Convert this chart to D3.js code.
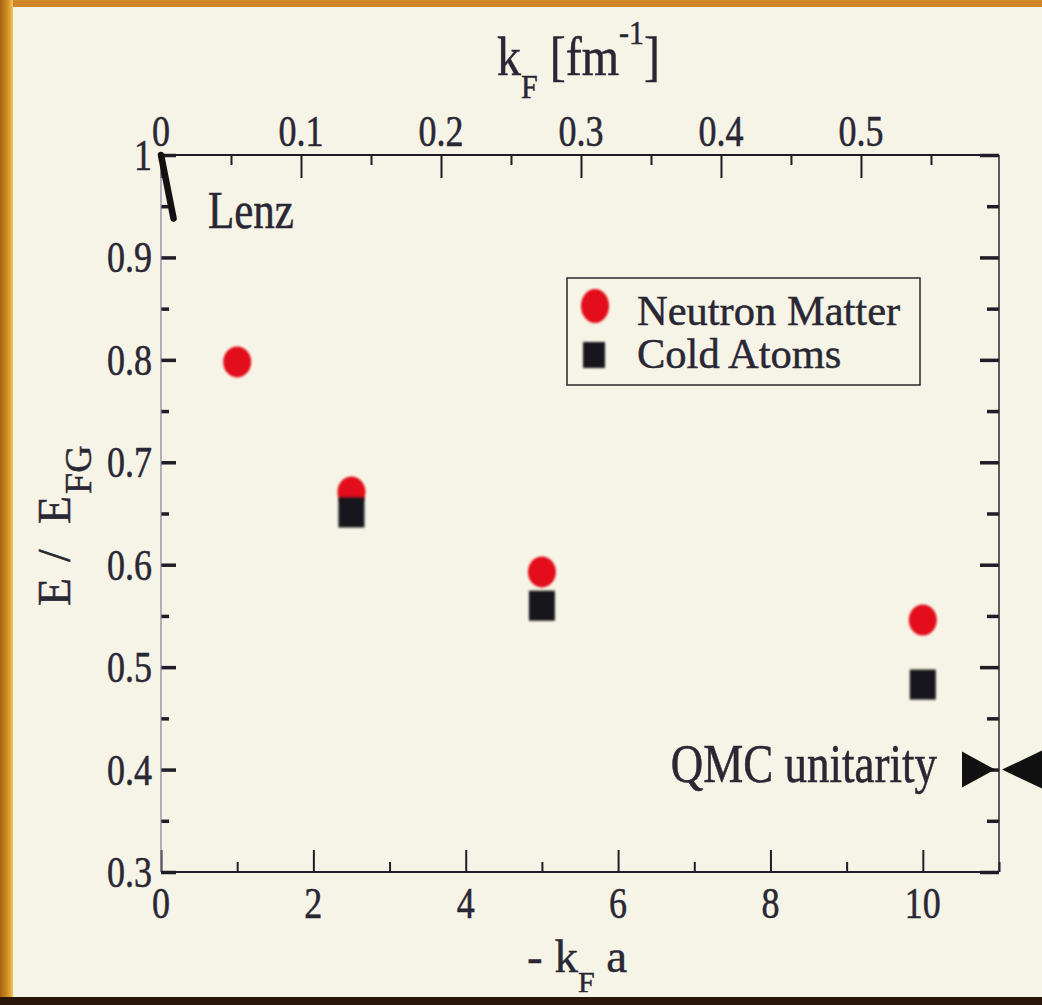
<!DOCTYPE html>
<html><head><meta charset="utf-8">
<script src="https://cdn.jsdelivr.net/npm/d3@7"></script>
<style>
html,body{margin:0;padding:0;background:#f6f4e6;}
svg{display:block;}
text{font-family:"Liberation Serif","Times New Roman",serif;fill:#2a2734;stroke:#2a2734;stroke-width:0.45px;}
</style></head><body>
<svg id="chart" width="1042" height="1005"></svg>
<script>
// ---- data ----
const neutronX = [1, 2.5, 5, 10];
const neutronE = [0.798, 0.671, 0.593, 0.546];
const coldX = [2.5, 5, 10];
const coldE = [0.651, 0.560, 0.483];
const lenzX = [0, 0.165];
const lenzE = [1.0, 0.938];
const qmcE = 0.40;
const bottomTicks = [0, 2, 4, 6, 8, 10];
const bottomMinor = [1, 3, 5, 7, 9, 11];
const topTicks = [0, 0.1, 0.2, 0.3, 0.4, 0.5];
const topLabels = ["0", "0.1", "0.2", "0.3", "0.4", "0.5"];
const topMinor = [0.05, 0.15, 0.25, 0.35, 0.45, 0.55];
const leftTicks = [0.3, 0.4, 0.5, 0.6, 0.7, 0.8, 0.9, 1.0];
const leftLabels = ["0.3", "0.4", "0.5", "0.6", "0.7", "0.8", "0.9", "1"];
const leftMinor = [0.35, 0.45, 0.55, 0.65, 0.75, 0.85, 0.95];
const legendLabels = ["Neutron Matter", "Cold Atoms"];

// ---- layout ----
const W = 1042, H = 1005;
const L = 161, R = 999, T = 155, B = 872;
const x = d3.scaleLinear().domain([0, 11]).range([L, R]);
const xTop = d3.scaleLinear().domain([0, 0.5986]).range([L, R]);
const y = d3.scaleLinear().domain([0.3, 1]).range([B, T]);

const svg = d3.select("#chart");

// frame / background
svg.append("rect").attr("x", 0).attr("y", 0).attr("width", W).attr("height", H).attr("fill", "#f6f4e6");
const defs = svg.append("defs");
const lg = defs.append("linearGradient").attr("id", "leftg").attr("x1", 0).attr("x2", 1).attr("y1", 0).attr("y2", 0);
lg.append("stop").attr("offset", "0%").attr("stop-color", "#a8620f");
lg.append("stop").attr("offset", "55%").attr("stop-color", "#d08a26");
lg.append("stop").attr("offset", "100%").attr("stop-color", "#f2c850");
svg.append("rect").attr("x", 0).attr("y", 0).attr("width", W).attr("height", 7).attr("fill", "#d0862a");
svg.append("rect").attr("x", 0).attr("y", 0).attr("width", 13).attr("height", H).attr("fill", "url(#leftg)");
svg.append("rect").attr("x", 0).attr("y", 997).attr("width", W).attr("height", 8).attr("fill", "#2a1509");

// text helper (vertically stretched serif text, like the video frame)
function label(g, px, py, str, size, anchor, sy) {
  return g.append("text")
    .attr("transform", `translate(${px},${py}) scale(1,${sy})`)
    .attr("font-size", size)
    .attr("text-anchor", anchor)
    .text(str);
}

// ---- axes ticks ----
const tickColor = "#1e1c26";
const gB = svg.append("g").attr("transform", `translate(0,${B})`);
gB.call(d3.axisBottom(x).tickValues(bottomTicks).tickSize(-22).tickFormat(""));
gB.append("g").call(d3.axisBottom(x).tickValues(bottomMinor).tickSize(-10).tickFormat(""));
const gT = svg.append("g").attr("transform", `translate(0,${T})`);
gT.call(d3.axisTop(xTop).tickValues(topTicks).tickSize(-23).tickFormat(""));
gT.append("g").call(d3.axisTop(xTop).tickValues(topMinor).tickSize(-10).tickFormat(""));
const gL = svg.append("g").attr("transform", `translate(${L},0)`);
gL.call(d3.axisLeft(y).tickValues(leftTicks).tickSize(-15).tickFormat(""));
gL.append("g").call(d3.axisLeft(y).tickValues(leftMinor).tickSize(-8).tickFormat(""));
const gR = svg.append("g").attr("transform", `translate(${R},0)`);
gR.call(d3.axisRight(y).tickValues(leftTicks).tickSize(-19).tickFormat(""));
gR.append("g").call(d3.axisRight(y).tickValues(leftMinor).tickSize(-12).tickFormat(""));

svg.selectAll(".domain").remove();
gB.selectAll(".tick line").attr("stroke", tickColor).attr("stroke-width", 2);
gT.selectAll(".tick line").attr("stroke", tickColor).attr("stroke-width", 2);
gL.selectAll(".tick line").attr("stroke", tickColor).attr("stroke-width", 3.5);
gR.selectAll(".tick line").attr("stroke", tickColor).attr("stroke-width", 3.5);

// frame lines
svg.append("line").attr("x1", L).attr("x2", L).attr("y1", T).attr("y2", B).attr("stroke", "#8a7c98").attr("stroke-width", 1.2);
svg.append("line").attr("x1", R).attr("x2", R).attr("y1", T).attr("y2", B).attr("stroke", "#2a2630").attr("stroke-width", 1.5);
svg.append("line").attr("x1", L).attr("x2", R).attr("y1", T).attr("y2", T).attr("stroke", "#1e1c26").attr("stroke-width", 2);
svg.append("line").attr("x1", L).attr("x2", R).attr("y1", B).attr("y2", B).attr("stroke", "#1e1c26").attr("stroke-width", 2);

// tick labels
const gLab = svg.append("g");
bottomTicks.forEach(v => label(gLab, x(v), 918, String(v), 36, "middle", 1.22));
topTicks.forEach((v, i) => label(gLab, xTop(v), 146, topLabels[i], 36, "middle", 1.22));
leftTicks.forEach((v, i) => label(gLab, 152, y(v) + 15, leftLabels[i], 36, "end", 1.22));

// axis titles
const tt = svg.append("text").attr("transform", "translate(497,75) scale(1,1.15)").attr("font-size", 48);
tt.append("tspan").text("k");
tt.append("tspan").attr("font-size", 30).attr("dy", 20).text("F");
tt.append("tspan").attr("dy", -20).text(" [fm");
tt.append("tspan").attr("font-size", 30).attr("dy", -27).text("-1");
tt.append("tspan").attr("dy", 27).text("]");

const bt = svg.append("text").attr("transform", "translate(527,972)").attr("font-size", 47);
bt.append("tspan").text("- k");
bt.append("tspan").attr("font-size", 30).attr("dy", 20).text("F");
bt.append("tspan").attr("dy", -20).text(" a");

const yt = svg.append("text").attr("transform", "translate(70,606) rotate(-90)").attr("font-size", 46);
yt.append("tspan").attr("x", 0).text("E");
yt.append("tspan").attr("x", 44).text("/");
yt.append("tspan").attr("x", 82).text("E");
yt.append("tspan").attr("x", 112).attr("font-size", 38).attr("dy", 21).text("FG");

// ---- Lenz line ----
svg.append("path")
  .datum(lenzX.map((v, i) => [v, lenzE[i]]))
  .attr("d", d3.line().x(d => x(d[0])).y(d => y(d[1])))
  .attr("stroke", "#111").attr("stroke-width", 6.5).attr("stroke-linecap", "round").attr("fill", "none");
label(svg, 208, 228, "Lenz", 43, "start", 1.22);

// ---- QMC unitarity markers ----
const qy = y(qmcE);
svg.append("path")
  .attr("d", `M${x(11) - 37},${qy - 18} L${x(11) - 4},${qy} L${x(11) - 37},${qy + 18} Z`)
  .attr("fill", "#111");
svg.append("path")
  .attr("d", `M${x(11) + 3},${qy} L${x(11) + 45},${qy - 20} L${x(11) + 45},${qy + 20} Z`)
  .attr("fill", "#111");
label(svg, 937, 782, "QMC unitarity", 45, "end", 1.2);

// ---- data markers ----
const blur = defs.append("filter").attr("id", "soft").attr("x", "-20%").attr("y", "-20%").attr("width", "140%").attr("height", "140%");
blur.append("feGaussianBlur").attr("stdDeviation", 0.8);

svg.append("g").selectAll("ellipse").data(neutronX).join("ellipse")
  .attr("cx", d => x(d)).attr("cy", (d, i) => y(neutronE[i]))
  .attr("rx", 14).attr("ry", 15.5).attr("fill", "#e3101a").attr("filter", "url(#soft)");
svg.append("g").selectAll("rect").data(coldX).join("rect")
  .attr("x", d => x(d) - 13).attr("y", (d, i) => y(coldE[i]) - 15)
  .attr("width", 26).attr("height", 30).attr("fill", "#16151f").attr("filter", "url(#soft)");

// ---- legend ----
const leg = svg.append("g");
leg.append("rect").attr("x", 567).attr("y", 278).attr("width", 353).attr("height", 107)
  .attr("fill", "none").attr("stroke", "#2a2630").attr("stroke-width", 1.5);
leg.append("ellipse").attr("cx", 595).attr("cy", 306).attr("rx", 14).attr("ry", 17).attr("fill", "#e3101a").attr("filter", "url(#soft)");
leg.append("rect").attr("x", 583).attr("y", 342).attr("width", 22).attr("height", 26).attr("fill", "#16151f").attr("filter", "url(#soft)");
label(leg, 637, 325, legendLabels[0], 42.5, "start", 1.0);
label(leg, 637, 368, legendLabels[1], 42.5, "start", 1.0);
</script>
</body></html>
